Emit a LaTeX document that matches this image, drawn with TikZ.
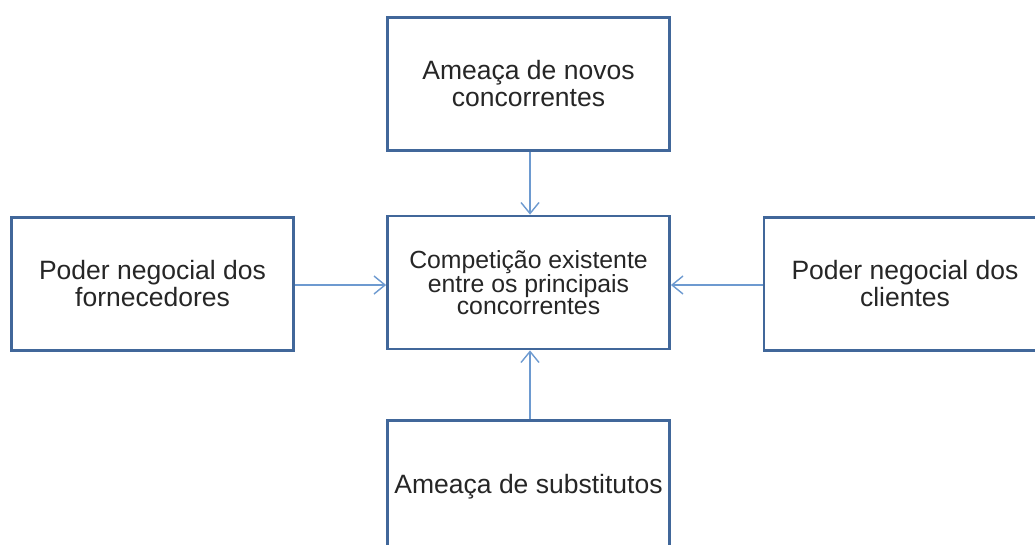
\documentclass[tikz,border=0pt]{standalone}
\usepackage{fontspec}
\setmainfont{Liberation Sans}
\usetikzlibrary{arrows.meta}
\definecolor{boxblue}{HTML}{41679A}
\definecolor{arrowblue}{HTML}{6D9AD0}
\begin{document}
\begin{tikzpicture}[x=1pt, y=-1pt,
   force/.style={rectangle, draw=boxblue, line width=2.8pt, minimum width=282pt, minimum height=133pt, align=center, font=\fontsize{26.5}{27}\selectfont, text=black!85},
   rivalry/.style={force, font=\fontsize{24.8}{22.5}\selectfont},
   push/.style={draw=arrowblue, line width=1.4pt, -{Straight Barb[length=11pt, width=18pt]}}]
   \clip (0,0) rectangle (1035,544);
   \fill[white] (0,0) rectangle (1035,544);
   \node[rivalry] (rivalry) at (528.5,282.5) {Competição existente\\entre os principais\\concorrentes};
   \node[force] (entrants) at (528.5,84) {Ameaça de novos\\concorrentes};
   \node[force] (suppliers) at (152.5,284) {Poder negocial dos\\fornecedores};
   \node[force] (buyers) at (905,284) {Poder negocial dos\\clientes};
   \node[force] (substitutes) at (528.5,487) {Ameaça de substitutos};
   \draw[push] (entrants.south -| 530,0) -- (rivalry.north -| 530,0);
   \draw[push] (suppliers.east |- 0,285) -- (rivalry.west |- 0,285);
   \draw[push] (buyers.west |- 0,285) -- (rivalry.east |- 0,285);
   \draw[push] (substitutes.north -| 530,0) -- (rivalry.south -| 530,0);
\end{tikzpicture}
\end{document}
